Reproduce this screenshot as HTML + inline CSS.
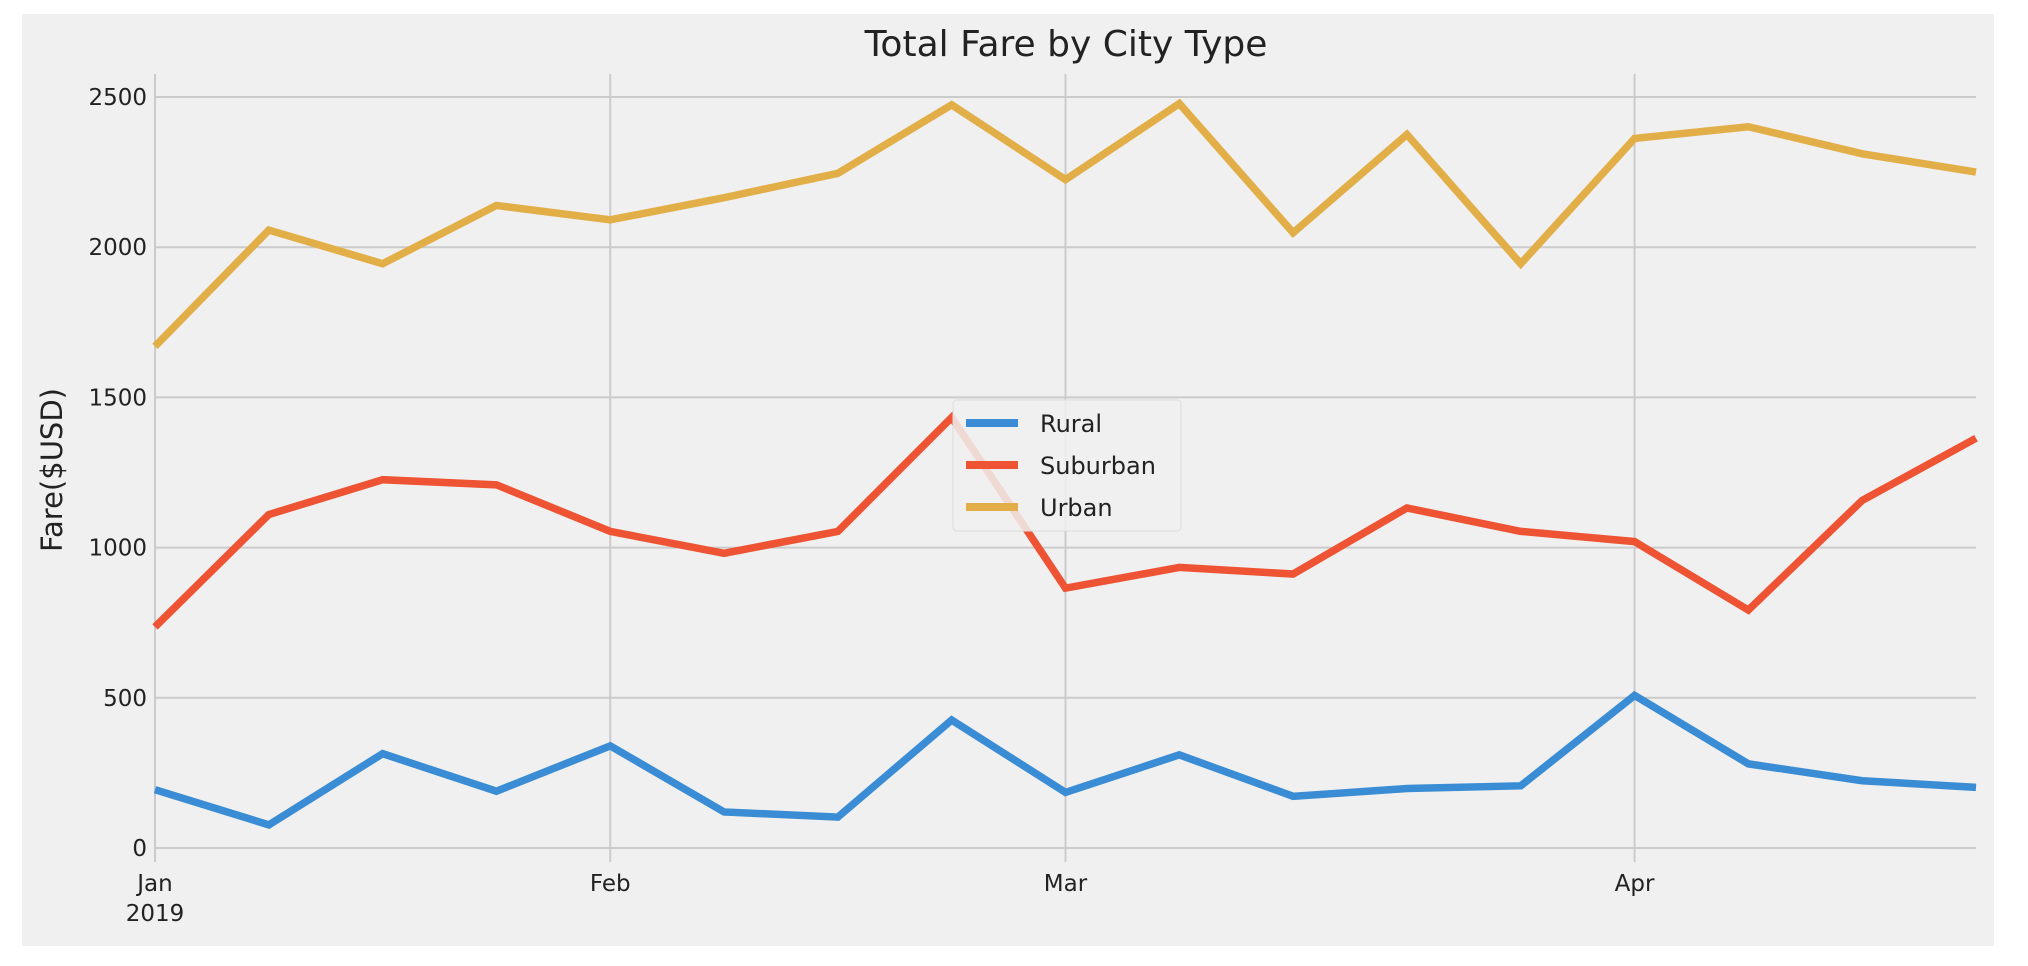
<!DOCTYPE html>
<html><head><meta charset="utf-8"><style>
html,body{margin:0;padding:0;background:#fff;}
svg{display:block;font-family:"DejaVu Sans","Liberation Sans",sans-serif;}
</style></head><body>
<svg id="chart" width="2028" height="966" viewBox="0 0 2028 966">
<rect x="22" y="14" width="1972" height="932" fill="#f0f0f0"/>
<text x="1066" y="56" text-anchor="middle" font-size="36" fill="#222">Total Fare by City Type</text>
<text transform="translate(62,470) rotate(-90)" text-anchor="middle" font-size="29" fill="#222">Fare($USD)</text>
<g id="grid"></g><g id="lines"></g><g id="ticks"></g>
<g>
<rect x="953" y="400" width="228" height="131" rx="4" fill="#f0f0f0" fill-opacity="0.85" stroke="#dddddd"/>
<line x1="966" y1="423" x2="1018" y2="423" stroke="#3a8dd4" stroke-width="8"/>
<text x="1040" y="432" font-size="24" fill="#222">Rural</text>
<line x1="966" y1="465" x2="1018" y2="465" stroke="#ee5434" stroke-width="8"/>
<text x="1040" y="474" font-size="24" fill="#222">Suburban</text>
<line x1="966" y1="507" x2="1018" y2="507" stroke="#e2ae48" stroke-width="8"/>
<text x="1040" y="516" font-size="24" fill="#222">Urban</text>
</g>
</svg>
<script>
const rural=[194,77,314,189,340,120,103,426,185,310,172,198,207,508,280,224,202];
const suburban=[736,1110,1226,1209,1054,981,1054,1433,865,934,912,1132,1054,1020,792,1157,1364];
const urban=[1670,2057,1945,2139,2091,2165,2246,2474,2225,2478,2048,2375,1945,2362,2401,2311,2250];
const yTicks=[0,500,1000,1500,2000,2500];
const xTickIdx=[0,4,8,13];
const xTickLabels=["Jan","Feb","Mar","Apr"];
const NS="http://www.w3.org/2000/svg";
const L=155,R=1976,B=848,T=74;
const xs=i=>L+i*(R-L)/16;
const ys=v=>B-v*(751/2500);
function mk(tag,attrs,parent){const e=document.createElementNS(NS,tag);for(const k in attrs)e.setAttribute(k,attrs[k]);document.getElementById(parent).appendChild(e);return e;}
yTicks.forEach(v=>{
  const g=mk('line',{x1:L,x2:R,y1:ys(v),y2:ys(v),stroke:'#cbcbcb','stroke-width':2},'grid');
  
  
  const t=mk('text',{x:147,y:ys(v)+8,'text-anchor':'end','font-size':23,fill:'#222'},'ticks');
  t.textContent=v;
  
  
});
xTickIdx.forEach((ix,k)=>{
  const g=mk('line',{x1:xs(ix),x2:xs(ix),y1:T,y2:B+14,stroke:'#cbcbcb','stroke-width':2},'grid');
  
  
  const t=mk('text',{x:xs(ix),y:891,'text-anchor':'middle','font-size':23,fill:'#222'},'ticks');
  t.textContent=xTickLabels[k];
  
  
});
const yr=mk('text',{x:xs(0),y:921,'text-anchor':'middle','font-size':23,fill:'#222'},'ticks');
yr.textContent='2019';


[[rural,'#3a8dd4','rural-line'],[suburban,'#ee5434','suburban-line'],[urban,'#e2ae48','urban-line']].forEach(([d,c,n])=>{
  const p=mk('polyline',{points:d.map((v,i)=>xs(i)+','+ys(v)).join(' '),fill:'none',stroke:c,'stroke-width':7.5,'stroke-linejoin':'miter'},'lines');
  
  
});
</script>
</body></html>
